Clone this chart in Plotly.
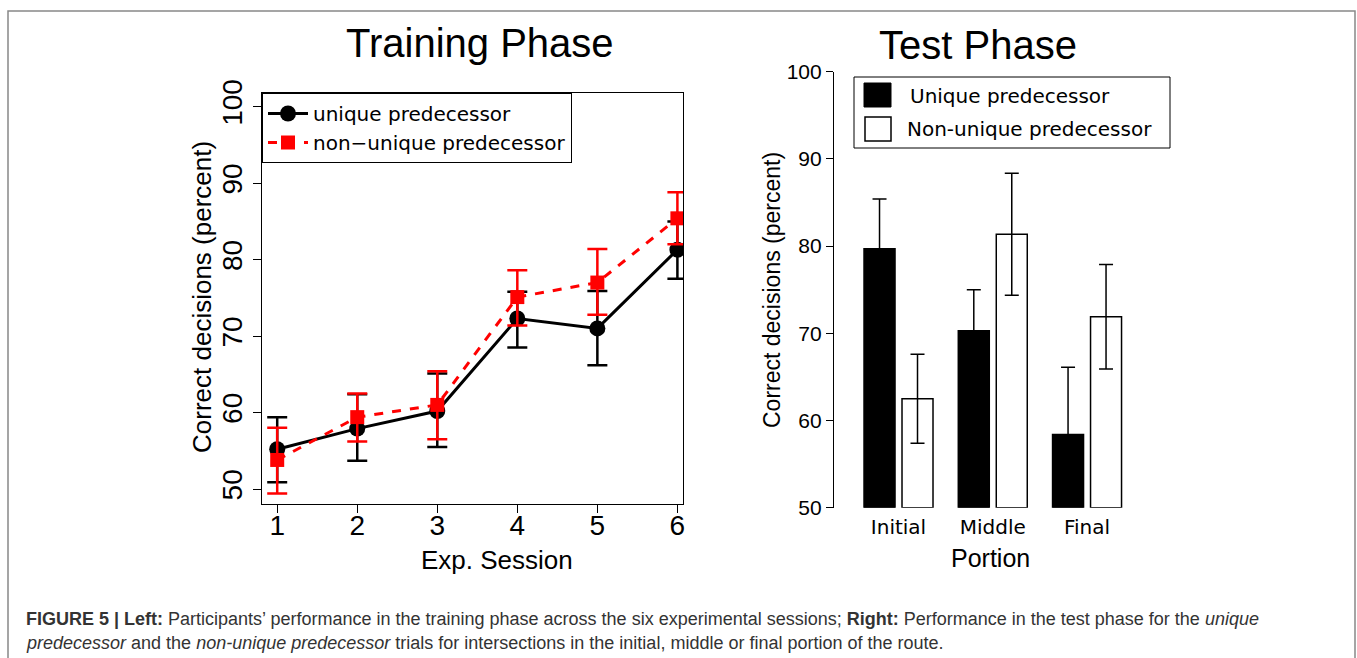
import plotly.graph_objects as go

W, H = 1357, 658

# ---------------- data ----------------
sessions = [1, 2, 3, 4, 5, 6]
unique_mean = [55.2, 57.9, 60.2, 72.3, 71.0, 81.3]
unique_upper = [59.4, 62.4, 65.1, 75.8, 75.9, 85.0]
unique_lower = [50.9, 53.7, 55.5, 68.5, 66.2, 77.5]
nonunique_mean = [53.8, 59.4, 61.0, 75.1, 77.0, 85.4]
nonunique_upper = [58.0, 62.5, 65.4, 78.6, 81.4, 88.8]
nonunique_lower = [49.4, 56.2, 56.5, 71.4, 72.8, 82.0]

portions = ["Initial", "Middle", "Final"]
test_unique = [79.7, 70.3, 58.4]
test_unique_err = [5.7, 4.7, 7.7]
test_nonunique = [62.5, 81.35, 71.9]
test_nonunique_err = [5.1, 7.0, 6.0]
bar_base = 50

left_ticks = [50, 60, 70, 80, 90, 100]
right_ticks = [50, 60, 70, 80, 90, 100]


def px(x):
    return x / W


def py(y):
    return 1 - y / H


SANS = "Liberation Sans, Arial, sans-serif"
DEJA = "DejaVu Sans, sans-serif"

fig = go.Figure()

fig.add_trace(go.Scatter(
    x=sessions, y=unique_mean, name="unique predecessor",
    mode="lines+markers",
    line=dict(color="black", width=3),
    marker=dict(symbol="circle", size=16, color="black"),
    error_y=dict(type="data", symmetric=False,
                 array=[u - m for u, m in zip(unique_upper, unique_mean)],
                 arrayminus=[m - l for m, l in zip(unique_mean, unique_lower)],
                 color="black", thickness=2.5, width=10),
    xaxis="x", yaxis="y",
))
fig.add_trace(go.Scatter(
    x=sessions, y=nonunique_mean, name="non\u2212unique predecessor",
    mode="lines+markers",
    line=dict(color="#ff0000", width=3, dash="dash"),
    marker=dict(symbol="square", size=14, color="#ff0000"),
    error_y=dict(type="data", symmetric=False,
                 array=[u - m for u, m in zip(nonunique_upper, nonunique_mean)],
                 arrayminus=[m - l for m, l in zip(nonunique_mean, nonunique_lower)],
                 color="#ff0000", thickness=2.5, width=10),
    xaxis="x", yaxis="y",
))

fig.add_trace(go.Bar(
    x=portions, y=[v - bar_base for v in test_unique], base=bar_base,
    name="Unique predecessor",
    marker=dict(color="black", line=dict(color="black", width=1.5)),
    error_y=dict(type="data", array=test_unique_err, color="black",
                 thickness=1.5, width=7),
    xaxis="x2", yaxis="y2", showlegend=False,
))
fig.add_trace(go.Bar(
    x=portions, y=[v - bar_base for v in test_nonunique], base=bar_base,
    name="Non-unique predecessor",
    marker=dict(color="white", line=dict(color="black", width=1.5)),
    error_y=dict(type="data", array=test_nonunique_err, color="black",
                 thickness=1.5, width=7),
    xaxis="x2", yaxis="y2", showlegend=False,
))

# ---- layout ----
x1d = [px(262), px(683)]
y1d = [py(504), py(93)]
x2d = [px(833), px(1170)]
y2d = [py(507.7), py(71.7)]

fig.update_layout(
    width=W, height=H, autosize=False,
    margin=dict(l=0, r=0, t=0, b=0, autoexpand=False),
    paper_bgcolor="white", plot_bgcolor="white",
    barmode="group", bargap=0.194, bargroupgap=0.184,
    xaxis=dict(domain=x1d, range=[0.81, 6.07], tickvals=sessions, automargin=False,
               showline=True, linecolor="black", linewidth=1.2, mirror=True,
               ticks="outside", ticklen=8, tickcolor="black", ticklabelstandoff=-12,
               showgrid=False, zeroline=False,
               tickfont=dict(family=SANS, size=28, color="black")),
    yaxis=dict(domain=y1d, range=[48.04, 101.79], tickvals=left_ticks, automargin=False,
               showline=True, linecolor="black", linewidth=1.2, mirror=True,
               ticks="outside", ticklen=8, tickcolor="black", tickangle=-90,
               showgrid=False, zeroline=False,
               tickfont=dict(family=SANS, size=28, color="black")),
    xaxis2=dict(domain=x2d, range=[-0.695, 2.88], anchor="y2", automargin=False,
                showline=False, ticks="", showgrid=False, zeroline=False,
                ticklabelstandoff=5,
                tickfont=dict(family=DEJA, size=20, color="black")),
    yaxis2=dict(domain=y2d, range=[50, 100], anchor="free", position=px(833),
                tickvals=right_ticks, automargin=False,
                showline=True, linecolor="black", linewidth=1.2,
                ticks="outside", ticklen=7, tickcolor="black",
                showgrid=False, zeroline=False,
                tickfont=dict(family=SANS, size=21, color="black")),
    legend=dict(x=px(262), y=py(93), xanchor="left", yanchor="top",
                bgcolor="white", bordercolor="black", borderwidth=1,
                font=dict(family=DEJA, size=20, color="black"),
                itemwidth=40, tracegroupgap=0),
    showlegend=True,
)


def ann(text, x, y, size, family=SANS, xanchor="center", angle=0, color="black"):
    fig.add_annotation(text=text, x=px(x), y=py(y), xref="paper", yref="paper",
                       xanchor=xanchor, yanchor="middle", textangle=angle,
                       showarrow=False, font=dict(family=family, size=size, color=color))


# titles
ann("Training Phase", 480, 43, 40)
ann("Test Phase", 978, 45, 40)
# axis titles
ann("Exp. Session", 497, 560, 26)
ann("Correct decisions (percent)", 202, 297, 26, angle=-90)
ann("Portion", 990, 558, 25)
ann("Correct decisions (percent)", 772, 290, 23, angle=-90)

# right legend (custom box)
shapes = []
shapes.append(dict(type="rect", xref="paper", yref="paper",
                   x0=px(854), x1=px(1170), y0=py(148), y1=py(77),
                   line=dict(color="black", width=1), fillcolor="white", layer="above"))
shapes.append(dict(type="rect", xref="paper", yref="paper",
                   x0=px(864), x1=px(891), y0=py(107), y1=py(83),
                   line=dict(color="black", width=1), fillcolor="black", layer="above"))
shapes.append(dict(type="rect", xref="paper", yref="paper",
                   x0=px(865), x1=px(891), y0=py(141), y1=py(117),
                   line=dict(color="black", width=1.5), fillcolor="white", layer="above"))
# outer frame
shapes.append(dict(type="rect", xref="paper", yref="paper",
                   x0=px(8), x1=px(1355), y0=py(700), y1=py(11),
                   line=dict(color="#888888", width=1.5), fillcolor="rgba(0,0,0,0)"))
fig.update_layout(shapes=shapes)

ann("Unique predecessor", 908, 96, 20, family=DEJA, xanchor="left")
ann("Non-unique predecessor", 905, 129, 20, family=DEJA, xanchor="left")

# caption
line1 = ("<b>FIGURE 5 | Left:</b> Participants\u2019 performance in the training phase across the six "
         "experimental sessions; <b>Right:</b> Performance in the test phase for the <i>unique</i>")
line2 = ("<i>predecessor</i> and the <i>non-unique predecessor</i> trials for intersections in the "
         "initial, middle or final portion of the route.")
ann(line1, 24, 619, 18, xanchor="left", color="#333333")
ann(line2, 24, 643, 18, xanchor="left", color="#333333")

fig.write_html("out.html", config={"displayModeBar": False},
               post_script="document.body.style.margin='0';")
